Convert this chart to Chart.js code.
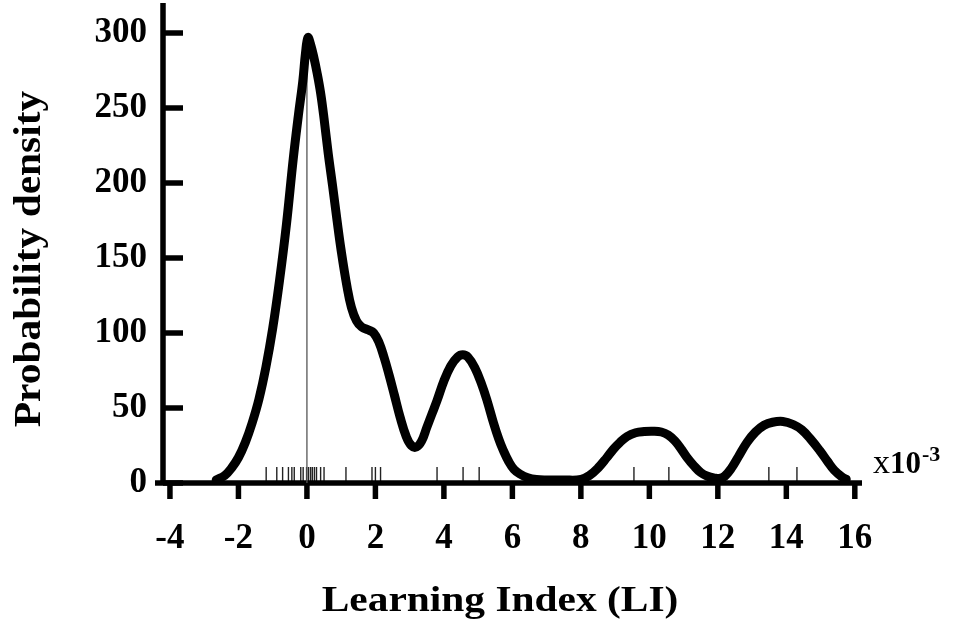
<!DOCTYPE html>
<html>
<head>
<meta charset="utf-8">
<script src="https://cdn.jsdelivr.net/npm/chart.js@4/dist/chart.umd.min.js"></script>
<style>
html,body{margin:0;padding:0;background:#fff;}
#wrap{width:953px;height:632px;position:relative;}
canvas{display:block;}
</style>
</head>
<body>
<div id="wrap"><canvas id="c" width="953" height="632" style="width:953px;height:632px"></canvas></div>
<script>
// ---- data ----
const xTickValues = [-4, -2, 0, 2, 4, 6, 8, 10, 12, 14, 16];
const yTickValues = [0, 50, 100, 150, 200, 250, 300];

const densityX = [-2.65, -2.4, -2.2, -2.0, -1.8, -1.6, -1.4, -1.2, -1.0, -0.8, -0.6, -0.4, -0.25, -0.12, -0.04, 0.03,
  0.1, 0.2, 0.3, 0.4, 0.5, 0.62, 0.75, 0.88, 1.0, 1.17, 1.3, 1.45, 1.6, 1.8, 1.95, 2.1, 2.25, 2.4, 2.55, 2.72, 2.9,
  3.05, 3.2, 3.35, 3.5, 3.65, 3.8, 4.0, 4.2, 4.4, 4.55, 4.7, 4.9, 5.1, 5.26, 5.45, 5.6, 5.73, 5.9, 6.05, 6.22, 6.45,
  6.7, 7.0, 7.5, 8.0, 8.25, 8.5, 8.76, 8.95, 9.14, 9.35, 9.6, 9.85, 10.1, 10.35, 10.55, 10.75, 10.95, 11.1, 11.3,
  11.5, 11.7, 11.9, 12.05, 12.2, 12.4, 12.6, 12.85, 13.1, 13.35, 13.6, 13.9, 14.2, 14.45, 14.7, 14.98, 15.2, 15.4,
  15.63, 15.75];
const densityY = [2, 5, 10, 17, 27, 40, 56, 77, 103, 135, 172, 216, 245, 268, 287, 297,
  293, 284, 273, 260, 243, 220, 198, 175, 155, 131, 117, 108, 104, 102, 100, 94, 84, 72, 59, 44, 31,
  25, 24, 28, 37, 46, 55, 68, 78, 84, 85.5, 84, 77, 66, 55, 40, 29.5, 22, 14, 9, 6, 3.5,
  2.3, 2, 2, 2.3, 5, 10, 17, 22.5, 27, 31, 33.5, 34.3, 34.5, 34, 32, 28, 22, 17, 11.5,
  7, 4.5, 3.3, 3, 4.5, 10, 17.5, 27, 34, 38.5, 40.5, 41, 39, 35.5, 29.5, 21.5, 14.5, 8.5,
  4, 2.5];

const rugX = [-1.19, -0.88, -0.71, -0.54, -0.44, -0.37, -0.18, -0.11, -0.01, 0.05, 0.11, 0.16, 0.22, 0.28,
  0.40, 0.50, 1.14, 1.90, 2.00, 2.15, 3.80, 4.56, 5.03, 9.55, 10.57, 13.49, 14.31];

const refLineX = [0, 0];
const refLineY = [0, 295];

const xTitle = 'Learning Index (LI)';
const yTitle = 'Probability density';
const scaleNote = ['x', '10', '-3'];

// ---- drawing ----
const SERIF = '"Liberation Serif", "Times New Roman", serif';

const axesPlugin = {
  id: 'axesPlugin',
  beforeDatasetsDraw(chart) {
    const ctx = chart.ctx;
    const xs = chart.scales.x, ys = chart.scales.y;
    const a = chart.chartArea;
    ctx.save();
    ctx.lineCap = 'butt';
    // rug marks
    ctx.lineWidth = 1.4;
    ctx.strokeStyle = '#222';
    rugX.forEach(v => {
      const px = xs.getPixelForValue(v);
      ctx.beginPath();
      ctx.moveTo(px, a.bottom - 2);
      ctx.lineTo(px, a.bottom - 16);
      ctx.stroke();
    });
    ctx.strokeStyle = '#000';
    ctx.lineWidth = 5.5;
    // y axis line
    ctx.beginPath();
    ctx.moveTo(a.left, a.top);
    ctx.lineTo(a.left, a.bottom + 2);
    ctx.stroke();
    // x axis line
    ctx.beginPath();
    ctx.moveTo(a.left - 8, a.bottom);
    ctx.lineTo(a.right, a.bottom);
    ctx.stroke();
    // y ticks (inside)
    yTickValues.forEach(v => {
      const py = ys.getPixelForValue(v);
      ctx.beginPath();
      ctx.moveTo(a.left, py);
      ctx.lineTo(a.left + 20, py);
      ctx.stroke();
    });
    // x ticks (below)
    xTickValues.forEach(v => {
      const px = xs.getPixelForValue(v);
      ctx.beginPath();
      ctx.moveTo(px, a.bottom);
      ctx.lineTo(px, a.bottom + 16);
      ctx.stroke();
    });
    ctx.restore();
  },
  afterDraw(chart) {
    const ctx = chart.ctx;
    const a = chart.chartArea;
    ctx.save();
    ctx.fillStyle = '#000';
    // x title
    ctx.save();
    ctx.font = 'bold 36px ' + SERIF;
    ctx.textAlign = 'center';
    ctx.textBaseline = 'alphabetic';
    ctx.translate(500, 611);
    ctx.scale(1.15, 1);
    ctx.fillText(xTitle, 0, 0);
    ctx.restore();
    // y title
    ctx.save();
    ctx.font = 'bold 37px ' + SERIF;
    ctx.textAlign = 'center';
    ctx.textBaseline = 'alphabetic';
    ctx.translate(40, 259);
    ctx.rotate(-Math.PI / 2);
    ctx.scale(1.12, 1);
    ctx.fillText(yTitle, 0, 0);
    ctx.restore();
    // x10^-3 note
    ctx.textAlign = 'left';
    ctx.textBaseline = 'alphabetic';
    let x = a.right + 11;
    const base = a.bottom - 10;
    ctx.font = '34px ' + SERIF;
    ctx.fillText(scaleNote[0], x, base);
    x += ctx.measureText(scaleNote[0]).width;
    ctx.font = 'bold 31px ' + SERIF;
    ctx.fillText(scaleNote[1], x, base);
    x += ctx.measureText(scaleNote[1]).width + 1;
    ctx.font = 'bold 22px ' + SERIF;
    ctx.fillText(scaleNote[2], x, base - 12);
    ctx.restore();
  }
};

const tickFont = { family: SERIF, size: 35, weight: 'bold' };

new Chart(document.getElementById('c'), {
  type: 'line',
  data: {
    datasets: [
      {
        label: 'Density',
        data: densityX.map((x, i) => ({ x: x, y: densityY[i] })),
        borderColor: '#000',
        borderWidth: 9,
        pointRadius: 0,
        fill: false,
        tension: 0.4,
        borderCapStyle: 'round',
        borderJoinStyle: 'round',
        clip: false,
        order: 0
      },
      {
        label: 'Reference',
        data: refLineX.map((x, i) => ({ x: x, y: refLineY[i] })),
        borderColor: '#555',
        borderWidth: 1.3,
        pointRadius: 0,
        fill: false,
        order: 1
      }
    ]
  },
  options: {
    responsive: false,
    devicePixelRatio: 1,
    animation: false,
    events: [],
    layout: { autoPadding: false, padding: { left: 0, top: 3, right: 91, bottom: 0 } },
    plugins: { legend: { display: false }, tooltip: { enabled: false }, title: { display: false } },
    scales: {
      x: {
        type: 'linear',
        min: -4.203,
        max: 16.21,
        afterBuildTicks: s => { s.ticks = xTickValues.map(v => ({ value: v })); },
        afterFit: s => { s.height = 149; s.paddingLeft = 0; s.paddingRight = 0; s.paddingTop = 0; s.paddingBottom = 0; },
        grid: { display: false, drawTicks: false },
        border: { display: false },
        ticks: { font: tickFont, color: '#000', padding: 35, autoSkip: false, maxRotation: 0 }
      },
      y: {
        type: 'linear',
        min: 0,
        max: 320,
        afterBuildTicks: s => { s.ticks = yTickValues.map(v => ({ value: v })); },
        afterFit: s => { s.width = 163; s.paddingLeft = 0; s.paddingRight = 0; s.paddingTop = 0; s.paddingBottom = 0; },
        grid: { display: false, drawTicks: false },
        border: { display: false },
        ticks: { font: tickFont, color: '#000', padding: 16, autoSkip: false }
      }
    }
  },
  plugins: [axesPlugin]
});
</script>
</body>
</html>
